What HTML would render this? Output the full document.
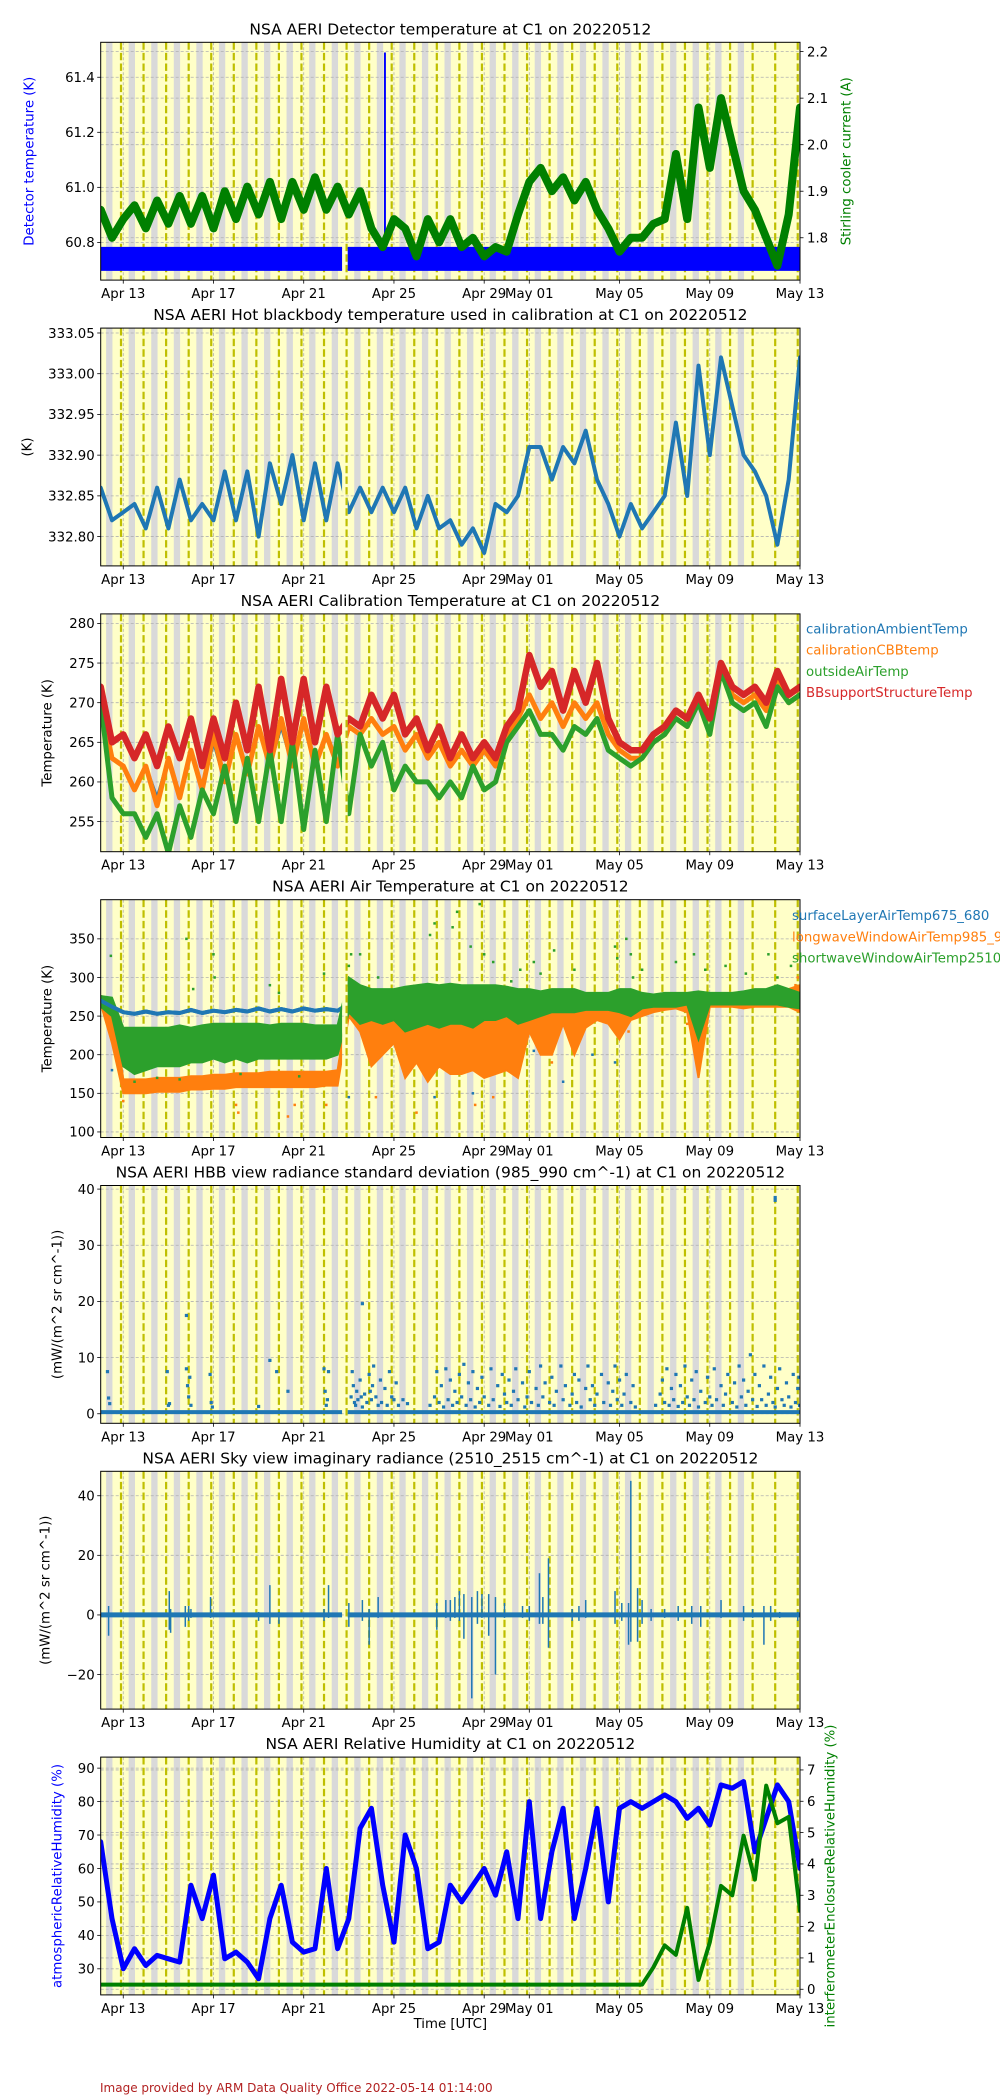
<!DOCTYPE html>
<html><head><meta charset="utf-8"><title>NSA AERI C1 20220512</title>
<style>body{margin:0;background:#fff}svg{display:block;font-family:"DejaVu Sans","Liberation Sans",sans-serif}</style>
</head><body>
<svg id="fig" width="1000" height="2100" viewBox="0 0 1000 2100"></svg>
<script>
// ---------- x axis (days since Apr 12 00:00 UTC) ----------
const xTickDays = [1,5,9,13,17,19,23,27,31];
const xTickLabels = ["Apr 13","Apr 17","Apr 21","Apr 25","Apr 29","May 01","May 05","May 09","May 13"];
// time grid of every series: half-day steps 0..31 (63 values)
const gapStart = 10.7, gapEnd = 10.95;

// ---------- panel 1 ----------
const detLo = [60.70,60.70,60.70,60.70,60.70,60.70,60.70,60.70,60.70,60.70,60.70,60.70,60.70,60.70,60.70,60.70,60.70,60.70,60.70,60.70,60.70,60.70,60.70,60.70,60.70,60.70,60.70,60.70,60.70,60.70,60.70,60.70,60.70,60.70,60.70,60.70,60.70,60.70,60.70,60.70,60.70,60.70,60.70,60.70,60.70,60.70,60.70,60.70,60.70,60.70,60.70,60.70,60.70,60.70,60.70,60.70,60.70,60.70,60.70,60.70,60.70,60.70,60.70];
const detHi = [60.78,60.78,60.78,60.78,60.78,60.78,60.78,60.78,60.78,60.78,60.78,60.78,60.78,60.78,60.78,60.78,60.78,60.78,60.78,60.78,60.78,60.78,60.78,60.78,60.78,60.78,60.78,60.78,60.78,60.78,60.78,60.78,60.78,60.78,60.78,60.78,60.78,60.78,60.78,60.78,60.78,60.78,60.78,60.78,60.78,60.78,60.78,60.78,60.78,60.78,60.78,60.78,60.78,60.78,60.78,60.78,60.78,60.78,60.78,60.78,60.78,60.78,60.78];
const detSpikes = [[12.6, 61.49]];
const coolerCurrent = [1.86,1.80,1.84,1.87,1.82,1.88,1.83,1.89,1.83,1.89,
 1.82,1.90,1.84,1.91,1.85,1.92,1.84,1.92,1.86,1.93,
 1.86,1.91,1.85,1.90,1.82,1.78,1.84,1.82,1.76,1.84,
 1.79,1.84,1.78,1.80,1.76,1.78,1.77,1.85,1.92,1.95,
 1.90,1.93,1.88,1.92,1.86,1.82,1.77,1.80,1.80,1.83,
 1.84,1.98,1.84,2.08,1.95,2.10,2.00,1.90,1.86,1.80,
 1.74,1.85,2.08];
// ---------- panel 2 ----------
const hbbTemp = [332.86,332.82,332.83,332.84,332.81,332.86,332.81,332.87,332.82,332.84,
 332.82,332.88,332.82,332.88,332.80,332.89,332.84,332.90,332.82,332.89,
 332.82,332.89,332.83,332.86,332.83,332.86,332.83,332.86,332.81,332.85,
 332.81,332.82,332.79,332.81,332.78,332.84,332.83,332.85,332.91,332.91,
 332.87,332.91,332.89,332.93,332.87,332.84,332.80,332.84,332.81,332.83,
 332.85,332.94,332.85,333.01,332.90,333.02,332.96,332.90,332.88,332.85,
 332.79,332.87,333.02];
// ---------- panel 3 ----------
const calAmbient = [270,263,262,259,262,258,263,258,264,259,
 265,260,266,261,267,262,267,262,268,262,
 266,262,267,266,268,266,267,264,266,263,
 265,262,264,262,264,262,266,268,271,268,
 270,267,270,268,270,266,264,263,263,265,
 266,268,267,270,268,274,271,270,271,269,
 273,270,271];
const calCBB = [270,263,262,259,262,257,263,258,264,259,
 266,260,266,261,267,262,268,262,268,262,
 266,262,267,266,268,266,267,264,266,263,
 265,262,264,262,264,262,266,268,271,268,
 270,267,270,268,270,266,264,263,263,265,
 266,268,267,270,268,275,271,270,271,269,
 273,270,271];
const outsideAir = [270,258,256,256,253,256,251,257,253,259,
 256,262,255,263,255,264,255,265,254,264,
 255,266,256,266,262,265,259,262,260,260,
 258,260,258,262,259,260,265,267,269,266,
 266,264,267,266,268,264,263,262,263,265,
 266,268,267,270,266,274,270,269,270,267,
 272,270,271];
const bbSupport = [272,265,266,263,266,262,267,263,268,262,
 268,263,270,264,272,264,273,265,273,265,
 272,266,268,267,271,268,271,266,268,264,
 267,263,266,263,265,263,267,269,276,272,
 274,269,274,270,275,268,265,264,264,266,
 267,269,268,271,268,275,272,271,272,270,
 274,271,272];
// ---------- panel 4 ----------
const surfaceAir = [270,262,255,253,256,253,255,254,258,254,
 257,255,258,256,260,256,259,256,260,257,
 259,257,266,265,262,260,258,258,262,265,
 266,265,266,267,268,266,268,269,268,270,
 268,270,269,270,268,268,266,265,268,269,
 270,268,270,272,270,273,271,270,272,270,
 272,271,270];
const longwaveLo = [266,215,150,150,150,152,152,152,155,155,
 156,156,158,158,158,158,158,158,158,158,
 160,160,250,230,185,200,215,170,190,165,
 185,175,175,180,170,175,180,170,230,200,
 200,240,200,235,245,240,220,245,250,255,
 258,260,255,170,262,262,262,260,262,262,
 262,262,255];
const longwaveHi = [276,272,168,168,168,170,170,170,172,172,
 174,174,176,176,176,178,178,178,178,178,
 178,180,275,270,265,262,262,255,258,250,
 255,255,250,255,255,260,258,262,265,265,
 265,268,265,268,268,268,270,268,270,270,
 272,272,272,272,273,275,275,275,278,280,
 285,285,290];
const shortwaveLo = [262,250,185,175,180,185,185,185,190,190,
 195,190,195,190,195,195,195,195,195,195,
 195,200,255,240,245,240,245,230,235,240,
 235,240,240,235,245,245,250,240,245,250,
 255,255,255,258,258,258,255,250,260,262,
 262,262,265,220,265,265,265,265,265,265,
 265,262,260];
const shortwaveHi = [276,274,235,235,235,235,235,238,235,238,
 240,240,240,240,240,238,240,240,240,238,
 238,238,300,290,285,285,285,288,290,292,
 290,292,290,290,290,290,288,285,285,282,
 285,285,285,280,280,280,285,285,280,278,
 280,280,280,282,280,280,280,282,285,285,
 290,285,280];
const shortwaveOutliers = [[0.45,328],[3.8,350],[4.1,285],[5.0,330],[5.05,300],[7.5,290],[7.9,280],[9.9,305],[11.0,315],[11.1,330],[11.5,330],[12.3,300],[14.6,355],[14.8,370],[15.6,365],[15.8,385],[16.4,340],[16.8,395],[17.0,330],[17.4,320],[18.2,295],[18.6,310],[19.2,320],[20.1,335],[21.0,310],[22.8,340],[22.9,325],[23.3,350],[23.5,330],[23.6,300],[25.5,320],[26.3,330],[26.8,310],[27.7,315],[28.6,305],[29.6,330],[30.0,300],[30.6,315],[24.0,310],[19.5,305],[1.5,165],[2.5,170],[3.5,168],[6.2,175],[8.8,172]];
const longwaveOutliers = [[0.9,200],[1.0,140],[6.0,135],[6.1,125],[8.3,120],[8.6,135],[10.0,135],[14.0,125],[16.6,135],[17.4,145],[20.0,190],[12.2,145],[23.4,230],[26.0,240],[30.9,300],[30.8,290]];
const surfaceOutliers = [[0.5,180],[11.0,145],[14.8,145],[16.5,150],[20.5,165],[22.8,190],[19.2,205],[26.5,190],[21.8,200],[18.4,175]];
// ---------- panel 5 ----------
const hbbStdBase = [0.3,0.3,0.3,0.3,0.3,0.3,0.3,0.3,0.3,0.3,0.3,0.3,0.3,0.3,0.3,0.3,0.3,0.3,0.3,0.3,0.3,0.3,0.3,0.3,0.3,0.3,0.3,0.3,0.3,0.3,0.3,0.3,0.3,0.3,0.3,0.3,0.3,0.3,0.3,0.3,0.3,0.3,0.3,0.3,0.3,0.3,0.3,0.3,0.3,0.3,0.3,0.3,0.3,0.3,0.3,0.3,0.3,0.3,0.3,0.3,0.3,0.3,0.3];
const hbbStdPoints = [[0.3,7.5],[0.35,2.8],[0.4,1.8],[2.95,7.5],[3.0,1.5],[3.05,1.8],[3.8,8],[3.85,5],[3.9,3],[4.0,1.5],[3.95,6.5],[3.8,17.5],[4.85,7],[4.9,2],[4.95,1.2],[7.5,9.5],[7.8,7.5],[7.0,1.3],[8.3,4],[9.9,8],[9.95,4],[10.0,1.5],[10.1,7.5],[10.05,2.5],[11.6,19.6],[29.9,38.5],[29.9,38],
[11.1,3],[11.15,7.5],[11.2,5],[11.25,2],[11.3,1.5],[11.35,4],[11.4,2.5],[11.5,6],[11.55,3],[11.6,1.2],[11.7,3.5],[11.8,2],[11.9,7],[11.95,4],[12.0,2.5],[12.05,5],[12.1,8.5],[12.2,3],[12.3,1.5],[12.4,6],[12.45,2],[12.6,4.5],[12.7,1.5],[12.8,7.5],[12.9,3],[13.0,2.5],[13.1,5.5],[13.2,1.5],[13.4,2.5],[13.6,1.8],
[14.6,1.5],[14.8,3],[14.9,7.5],[15.0,2],[15.1,5],[15.2,1.2],[15.3,8],[15.4,2.5],[15.5,6],[15.6,1.5],[15.7,4],[15.8,2],[15.9,7],[16.0,3],[16.1,8.8],[16.2,1.5],[16.3,5.5],[16.4,2.5],[16.5,7.5],[16.6,1.2],[16.7,4.5],[16.8,2],[16.9,6.5],[17.0,3],[17.2,1.5],[17.3,8],[17.4,2.5],[17.6,5],[17.7,1.3],[17.8,7],[17.9,3.5],[18.0,2],[18.1,6],[18.2,1.5],[18.3,4],[18.4,8],[18.5,2.5],[18.7,5.5],[18.8,1.2],[18.9,3],[19.0,7.5],[19.1,2],[19.3,4.5],[19.4,1.5],[19.5,8.5],[19.6,3],[19.7,5.5],[19.9,2],[20.0,6.5],[20.1,1.5],[20.2,4],[20.4,8.5],[20.5,2.5],[20.6,5],[20.8,1.5],[20.9,3.5],[21.0,7],[21.1,2],[21.2,6],[21.3,1.2],[21.5,4.5],[21.6,8.5],[21.7,2.5],[21.8,5],[21.9,1.5],[22.0,3.5],[22.2,7],[22.3,2],[22.5,5.5],[22.6,1.5],[22.7,4],[22.8,8.5],[22.9,2.5],[23.0,6],[23.1,1.5],[23.2,3.5],[23.3,7],[23.5,2],[23.6,5],[23.7,1.2],
[24.6,1.5],[24.8,3.5],[24.9,6],[25.0,2],[25.1,8],[25.2,1.5],[25.3,4.5],[25.4,2.5],[25.5,7],[25.6,1.3],[25.7,5],[25.8,2],[25.9,8.5],[26.0,3],[26.1,1.5],[26.2,6],[26.3,2.5],[26.4,7.5],[26.5,1.2],[26.6,4],[26.8,2],[26.9,6.5],[27.0,3],[27.1,1.5],[27.2,8],[27.3,2.5],[27.5,5],[27.6,1.5],[27.7,3.5],[27.8,7],[28.0,2],[28.1,5.5],[28.2,1.2],[28.3,8.5],[28.4,3],[28.5,6],[28.6,1.5],[28.7,4],[28.8,10.5],[28.9,2.5],[29.0,7],[29.1,1.3],[29.2,5],[29.3,2.5],[29.4,8.5],[29.5,1.5],[29.6,3.5],[29.7,6.5],[29.8,2],[29.9,1.2],[30.0,4.5],[30.1,8],[30.2,2.5],[30.3,1.5],[30.4,5.5],[30.5,3],[30.6,1.2],[30.7,7],[30.8,2],[30.9,4.5],[30.95,6.5],[30.98,1.5]];
// ---------- panel 6 ----------
const skyImagBase = [0,0,0,0,0,0,0,0,0,0,0,0,0,0,0,0,0,0,0,0,0,0,0,0,0,0,0,0,0,0,0,0,0,0,0,0,0,0,0,0,0,0,0,0,0,0,0,0,0,0,0,0,0,0,0,0,0,0,0,0,0,0,0];
const skyImagSpikes = [[0.35,-7,3],[3.04,-5,8],[3.1,-6,2],[3.75,-4,3],[3.9,-2,3],[4.0,-1,2],[4.87,-1,6],[7.0,-2,1],[7.5,-3,10],[7.9,-3,1],[9.9,-2,2],[10.1,-1,10],[11.0,-4,4],[11.6,-2,5],[11.9,-10,2],[12.3,-1,6],[14.9,-5,4],[15.3,-1,5],[15.5,-2,5],[15.7,-1,6],[15.9,-2,8],[16.1,-8,7],[16.45,-28,6],[16.7,-3,8],[16.9,-1,7],[17.2,-7,7],[17.5,-20,6],[17.9,-1,4],[18.7,-1,3],[19.0,-2,3],[19.45,-3,14],[19.6,-3,6],[19.85,-11,19],[20.9,-2,2],[21.2,-2,3],[21.5,-1,5],[22.8,-3,8],[23.1,-2,4],[23.4,-10,4],[23.5,-9,45],[23.8,-9,9],[24.0,-3,5],[24.4,-2,2],[25.0,-1,2],[25.6,-2,3],[26.2,-3,3],[26.6,-4,3],[27.5,-1,5],[28.5,-2,3],[28.9,-1,2],[29.4,-10,3],[29.7,-2,3],[30.1,-1,1],[30.9,-2,1]];
// ---------- panel 7 ----------
const atmosRH = [68,45,30,36,31,34,33,32,55,45,
 58,33,35,32,27,45,55,38,35,36,
 60,36,45,72,78,55,38,70,60,36,
 38,55,50,55,60,52,65,45,80,45,
 65,78,45,60,78,50,78,80,78,80,
 82,80,75,78,73,85,84,86,65,75,
 85,80,60];
const enclosureRH = [0.15,0.15,0.15,0.15,0.15,0.15,0.15,0.15,0.15,0.15,
 0.15,0.15,0.15,0.15,0.15,0.15,0.15,0.15,0.15,0.15,
 0.15,0.15,0.15,0.15,0.15,0.15,0.15,0.15,0.15,0.15,
 0.15,0.15,0.15,0.15,0.15,0.15,0.15,0.15,0.15,0.15,
 0.15,0.15,0.15,0.15,0.15,0.15,0.15,0.15,0.15,0.7,
 1.4,1.1,2.6,0.3,1.5,3.3,3.0,4.9,3.5,6.5,
 5.3,5.5,2.5];

// ================= rendering =================
const NS = "http://www.w3.org/2000/svg";
const svg = document.getElementById("fig");
const X0 = 100.7, X1 = 800, TMAX = 31;
const xs = t => X0 + t / TMAX * (X1 - X0);
const PT = i => 42.3 + 285.8 * i;
const PH = 237.8;
function mk(tag, attrs, parent) {
  const e = document.createElementNS(NS, tag);
  for (const k in attrs) e.setAttribute(k, attrs[k]);
  (parent || svg).appendChild(e);
  return e;
}
function ysc(i, lo, hi) { return v => PT(i) + PH - (v - lo) / (hi - lo) * PH; }
function tHalf(k) { return k * 0.5; }
function linePath(vals, y) {
  let d = "", pen = false;
  vals.forEach((v, k) => {
    if (v === null) { pen = false; return; }
    d += (pen ? "L" : "M") + xs(tHalf(k)).toFixed(1) + "," + y(v).toFixed(1);
    pen = true;
  });
  return d;
}
function bandPath(lo, hi, y) {
  const pts = [];
  lo.forEach((v, k) => pts.push(xs(tHalf(k)).toFixed(1) + "," + y(v).toFixed(1)));
  for (let k = hi.length - 1; k >= 0; k--) pts.push(xs(tHalf(k)).toFixed(1) + "," + y(hi[k]).toFixed(1));
  return "M" + pts.join("L") + "Z";
}

function panel(i, cfg) {
  const g = mk("g", {});
  
  
  const top = PT(i), bot = top + PH;
  const defs = mk("defs", {}, g);
  const cp = mk("clipPath", { id: "clip" + i }, defs);
  mk("rect", { x: X0, y: top, width: X1 - X0, height: PH }, cp);
  const cg = mk("clipPath", { id: "gap" + i }, defs);
  mk("rect", { x: X0, y: top, width: xs(gapStart) - X0, height: PH }, cg);
  mk("rect", { x: xs(gapEnd), y: top, width: X1 - xs(gapEnd), height: PH }, cg);
  const bg = mk("rect", { x: X0, y: top, width: X1 - X0, height: PH, fill: "#ffffc8" }, g);
  
  
  const inner = mk("g", { "clip-path": "url(#clip" + i + ")" }, g);
  for (let d = 0; d < 29; d++) {
    const gb = mk("rect", { x: xs(d + 0.24), y: top, width: xs(0.28) - X0, height: PH, fill: "#d9d9d9" }, inner);
    
    
  }
  const y = ysc(i, cfg.lo, cfg.hi);
  const gridG = mk("g", { stroke: "#b0b0b0", "stroke-width": 0.8, "stroke-dasharray": "3,2" }, inner);
  cfg.ticks.forEach(v => mk("line", { x1: X0, x2: X1, y1: y(v), y2: y(v) }, gridG));
  let y2 = null;
  if (cfg.rlo !== undefined) {
    y2 = ysc(i, cfg.rlo, cfg.rhi);
    cfg.rticks.forEach(v => mk("line", { x1: X0, x2: X1, y1: y2(v), y2: y2(v) }, gridG));
  }
  xTickDays.forEach(t => mk("line", { x1: xs(t), x2: xs(t), y1: top, y2: bot }, gridG));
  const dl = mk("g", { stroke: "#bfbf00", "stroke-width": 2.2, "stroke-dasharray": "7.4,3.2" }, inner);
  for (let d = 0; d <= 30; d++) {
    const l = mk("line", { x1: xs(d + 0.9), x2: xs(d + 0.9), y1: top, y2: bot }, dl);
    
    
  }
  const data = mk("g", {}, inner);
  cfg.draw(data, y, y2, "url(#gap" + i + ")");
  const fr = mk("rect", { x: X0, y: top, width: X1 - X0, height: PH, fill: "none", stroke: "#000", "stroke-width": 1 }, g);
  
  
  const ti = mk("text", { x: (X0 + X1) / 2, y: top - 8, "text-anchor": "middle", "font-size": 15.5, fill: "#000" }, g);
  ti.textContent = cfg.title;
  
  
  xTickDays.forEach((t, k) => {
    mk("line", { x1: xs(t), x2: xs(t), y1: bot, y2: bot + 3.5, stroke: "#000", "stroke-width": 0.8 }, g);
    const tx = mk("text", { x: xs(t), y: bot + 18, "text-anchor": "middle", "font-size": 13.3, fill: "#000" }, g);
    tx.textContent = xTickLabels[k];
    
    
  });
  cfg.ticks.forEach((v, k) => {
    mk("line", { x1: X0 - 3.5, x2: X0, y1: y(v), y2: y(v), stroke: "#000", "stroke-width": 0.8 }, g);
    const tx = mk("text", { x: X0 - 6, y: y(v) + 4.8, "text-anchor": "end", "font-size": 13.3, fill: "#000" }, g);
    tx.textContent = cfg.tickLabels[k];
    
    
  });
  if (y2) {
    cfg.rticks.forEach((v, k) => {
      mk("line", { x1: X1, x2: X1 + 3.5, y1: y2(v), y2: y2(v), stroke: "#000", "stroke-width": 0.8 }, g);
      const tx = mk("text", { x: X1 + 7, y: y2(v) + 4.8, "text-anchor": "start", "font-size": 13.3, fill: "#000" }, g);
      tx.textContent = cfg.rtickLabels[k];
      
      
    });
    const rl = mk("text", { x: 0, y: 0, "text-anchor": "middle", "dominant-baseline": "central", "font-size": 13.3, fill: cfg.rcolor, transform: "translate(" + cfg.rlabelX + "," + (top + PH / 2) + ") rotate(-90)" }, g);
    rl.textContent = cfg.rlabel;
    
    
  }
  const yl = mk("text", { x: 0, y: 0, "text-anchor": "middle", "dominant-baseline": "central", "font-size": 13.3, fill: cfg.lcolor || "#000", transform: "translate(" + cfg.labelX + "," + (top + PH / 2) + ") rotate(-90)" }, g);
  yl.textContent = cfg.label;
  
  
  if (cfg.legend) {
    cfg.legend.forEach((L, k) => {
      const lt = mk("text", { x: cfg.legendX, y: top + cfg.legendY0 + k * 21.3, "font-size": 13.3, fill: L[1] }, svg);
      lt.textContent = L[0];
      
      
    });
  }
}
function addLine(parent, vals, y, color, w, clip, name) {
  const p = mk("path", { d: linePath(vals, y), fill: "none", stroke: color, "stroke-width": w, "stroke-linejoin": "round", "stroke-linecap": "round" }, parent);
  if (clip) p.setAttribute("clip-path", clip);
  
  
  return p;
}
function addBand(parent, lo, hi, y, color, clip, name) {
  const p = mk("path", { d: bandPath(lo, hi, y), fill: color, stroke: color, "stroke-width": 2 }, parent);
  if (clip) p.setAttribute("clip-path", clip);
  
  
  return p;
}
function addDots(parent, pts, y, color, size, name) {
  const g = mk("g", { fill: color }, parent);
  
  
  pts.forEach(p => {
    const r = mk("rect", { x: xs(p[0]) - size / 2, y: y(p[1]) - size / 2, width: size, height: size }, g);
    
    
  });
}

panel(0, {
  name: "detector-temperature-panel", title: "NSA AERI Detector temperature at C1 on 20220512",
  lo: 60.663, hi: 61.527, ticks: [60.8, 61.0, 61.2, 61.4], tickLabels: ["60.8", "61.0", "61.2", "61.4"],
  rlo: 1.709, rhi: 2.22, rticks: [1.8, 1.9, 2.0, 2.1, 2.2], rtickLabels: ["1.8", "1.9", "2.0", "2.1", "2.2"],
  label: "Detector temperature (K)", labelX: 30, lcolor: "#0000ff",
  rlabel: "Stirling cooler current (A)", rlabelX: 847, rcolor: "#008000",
  draw: (g, y, y2, gap) => {
    addBand(g, detLo, detHi, y, "#0000ff", gap, "detector-temperature-band");
    detSpikes.forEach(s => {
      const l = mk("line", { x1: xs(s[0]), x2: xs(s[0]), y1: y(60.78), y2: y(s[1]), stroke: "#0000ff", "stroke-width": 2 }, g);
      
      
    });
    addLine(g, coolerCurrent, y2, "#008000", 8, null, "stirling-cooler-current-line");
  }
});
panel(1, {
  name: "hbb-temperature-panel", title: "NSA AERI Hot blackbody temperature used in calibration at C1 on 20220512",
  lo: 332.764, hi: 333.056, ticks: [332.80, 332.85, 332.90, 332.95, 333.00, 333.05],
  tickLabels: ["332.80", "332.85", "332.90", "332.95", "333.00", "333.05"],
  label: "(K)", labelX: 28,
  draw: (g, y, y2, gap) => { addLine(g, hbbTemp, y, "#1f77b4", 4, gap, "hbb-temperature-line"); }
});
panel(2, {
  name: "calibration-temperature-panel", title: "NSA AERI Calibration Temperature at C1 on 20220512",
  lo: 251.2, hi: 281.2, ticks: [255, 260, 265, 270, 275, 280], tickLabels: ["255", "260", "265", "270", "275", "280"],
  label: "Temperature (K)", labelX: 48,
  legendX: 806, legendY0: 19.4,
  legend: [["calibrationAmbientTemp", "#1f77b4"], ["calibrationCBBtemp", "#ff7f0e"], ["outsideAirTemp", "#2ca02c"], ["BBsupportStructureTemp", "#d62728"]],
  draw: (g, y, y2, gap) => {
    addLine(g, calAmbient, y, "#1f77b4", 3, gap, "calibration-ambient-line");
    addLine(g, calCBB, y, "#ff7f0e", 5, gap, "calibration-cbb-line");
    addLine(g, outsideAir, y, "#2ca02c", 5, gap, "outside-air-line");
    addLine(g, bbSupport, y, "#d62728", 6.5, gap, "bb-support-structure-line");
  }
});
panel(3, {
  name: "air-temperature-panel", title: "NSA AERI Air Temperature at C1 on 20220512",
  lo: 92.8, hi: 400.7, ticks: [100, 150, 200, 250, 300, 350], tickLabels: ["100", "150", "200", "250", "300", "350"],
  label: "Temperature (K)", labelX: 48,
  legendX: 792, legendY0: 20.3,
  legend: [["surfaceLayerAirTemp675_680", "#1f77b4"], ["longwaveWindowAirTemp985_990", "#ff7f0e"], ["shortwaveWindowAirTemp2510_2515", "#2ca02c"]],
  draw: (g, y, y2, gap) => {
    addLine(g, surfaceAir, y, "#1f77b4", 4, gap, "surface-layer-air-line");
    addDots(g, surfaceOutliers, y, "#1f77b4", 2.5, "surface-layer-air-outliers");
    addBand(g, longwaveLo, longwaveHi, y, "#ff7f0e", gap, "longwave-window-air-band");
    addDots(g, longwaveOutliers, y, "#ff7f0e", 2.5, "longwave-window-air-outliers");
    addBand(g, shortwaveLo, shortwaveHi, y, "#2ca02c", gap, "shortwave-window-air-band");
    addDots(g, shortwaveOutliers, y, "#2ca02c", 2.5, "shortwave-window-air-outliers");
    addLine(g, surfaceAir.slice(0, 22), y, "#1f77b4", 4, gap, "surface-layer-air-line-early");
  }
});
panel(4, {
  name: "hbb-radiance-stddev-panel", title: "NSA AERI HBB view radiance standard deviation (985_990 cm^-1) at C1 on 20220512",
  lo: -1.7, hi: 40.64, ticks: [0, 10, 20, 30, 40], tickLabels: ["0", "10", "20", "30", "40"],
  label: "(mW/(m^2 sr cm^-1))", labelX: 58,
  draw: (g, y, y2, gap) => {
    addDots(g, hbbStdPoints, y, "#1f77b4", 3.2, "hbb-stddev-points");
    addLine(g, hbbStdBase, y, "#1f77b4", 4, gap, "hbb-stddev-baseline");
  }
});
panel(5, {
  name: "sky-imaginary-radiance-panel", title: "NSA AERI Sky view imaginary radiance (2510_2515 cm^-1) at C1 on 20220512",
  lo: -31.6, hi: 48.2, ticks: [-20, 0, 20, 40], tickLabels: ["\u221220", "0", "20", "40"],
  label: "(mW/(m^2 sr cm^-1))", labelX: 46,
  draw: (g, y, y2, gap) => {
    const sg = mk("g", { stroke: "#1f77b4", "stroke-width": 1.5 }, g);
    
    
    skyImagSpikes.forEach(s => {
      const l = mk("line", { x1: xs(s[0]), x2: xs(s[0]), y1: y(s[1]), y2: y(s[2]) }, sg);
      
      
    });
    addLine(g, skyImagBase, y, "#1f77b4", 5, gap, "sky-imaginary-baseline");
  }
});
panel(6, {
  name: "relative-humidity-panel", title: "NSA AERI Relative Humidity at C1 on 20220512",
  lo: 22.2, hi: 93.3, ticks: [30, 40, 50, 60, 70, 80, 90], tickLabels: ["30", "40", "50", "60", "70", "80", "90"],
  rlo: -0.18, rhi: 7.41, rticks: [0, 1, 2, 3, 4, 5, 6, 7], rtickLabels: ["0", "1", "2", "3", "4", "5", "6", "7"],
  label: "atmosphericRelativeHumidity (%)", labelX: 58, lcolor: "#0000ff",
  rlabel: "interferometerEnclosureRelativeHumidity (%)", rlabelX: 831, rcolor: "#008000",
  draw: (g, y, y2, gap) => {
    addLine(g, atmosRH, y, "#0000ff", 5, null, "atmospheric-rh-line");
    addLine(g, enclosureRH, y2, "#008000", 4, null, "enclosure-rh-line");
  }
});
const xl = mk("text", { x: (X0 + X1) / 2, y: 2028, "text-anchor": "middle", "font-size": 13.3, fill: "#000" });
xl.textContent = "Time [UTC]";


const ft = mk("text", { x: 100, y: 2092, "font-size": 12, fill: "#b22222" });
ft.textContent = "Image provided by ARM Data Quality Office 2022-05-14 01:14:00";


</script>
</body></html>
